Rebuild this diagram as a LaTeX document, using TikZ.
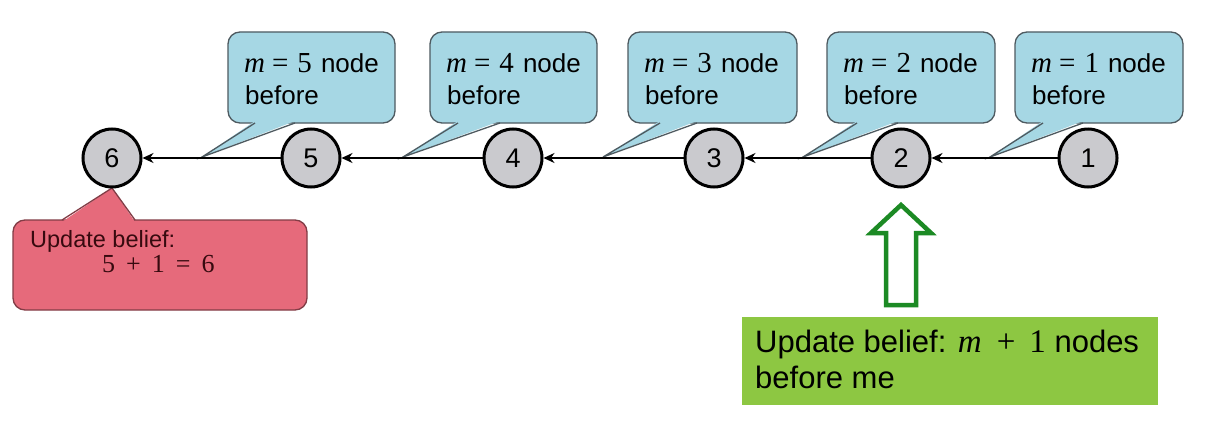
\documentclass[tikz,border=0pt]{standalone}
\usepackage[no-math]{fontspec}
\setmainfont{Liberation Sans}
\newfontfamily\mth{Liberation Serif}
\usetikzlibrary{arrows.meta}
\definecolor{callblue}{RGB}{166,215,228}
\definecolor{callblueline}{RGB}{78,90,96}
\definecolor{callred}{RGB}{230,106,123}
\definecolor{callredline}{RGB}{130,60,70}
\definecolor{redtext}{RGB}{55,10,15}
\definecolor{boxgreen}{RGB}{141,199,66}
\definecolor{arrowgreen}{RGB}{28,138,36}
\definecolor{circfill}{RGB}{202,202,206}
\tikzset{
  chain/.style={circle, draw=black, line width=3pt, fill=circfill, minimum size=58pt, inner sep=0pt, font=\fontsize{27}{27}\selectfont},
  conn/.style={line width=2.2pt, -{Stealth[length=11pt,width=10pt]}},
  bluebox/.style={fill=callblue, draw=callblueline, line width=1.3pt, rounded corners=12pt},
  bluetail/.style={fill=callblue},
  bluetailline/.style={draw=callblueline, line width=1.3pt},
  redbox/.style={fill=callred, draw=callredline, line width=1.3pt, rounded corners=12pt},
  calltext/.style={anchor=base west, inner sep=0pt, font=\fontsize{26}{30}\selectfont},
  redtxt/.style={anchor=base west, inner sep=0pt, text=redtext, font=\fontsize{23.5}{28}\selectfont},
  greentxt/.style={anchor=base west, inner sep=0pt, font=\fontsize{31}{36}\selectfont},
  hollowarrow/.style={draw=arrowgreen, line width=4.5pt, fill=white, line join=miter}
}
\begin{document}
\begin{tikzpicture}[x=1pt,y=-1pt]
\useasboundingbox[fill=white] (0,0) rectangle (1206,420);
% blue callouts
\foreach \i/\L/\R/\ba/\bb/\tx in {5/228/395/255/295/202, 4/430/597/458/500/403, 3/628/797/660/697/603, 2/827/995/857/898/803, 1/1015/1183/1043/1083/990}{
  \filldraw[bluebox] (\L,32) rectangle (\R,123);
  \coordinate (tip\i) at (\tx,157);
  \fill[bluetail] (\ba,121) -- (tip\i) -- (\bb,121) -- cycle;
  \draw[bluetailline, line join=miter] (\ba,123) -- (tip\i) -- (\bb,123);
  \node[calltext] (ta\i) at (\L+16,72) {{\fontsize{29}{30}\mth\itshape m\upshape\hspace{7pt}=\hspace{9pt}\i}\hspace{9pt}node};
  \node[calltext] (tb\i) at (\L+17,104) {before};
}
% red callout
\coordinate (redtip) at (112,188);
\filldraw[redbox] (13,220) rectangle (307,310);
\fill[callred] (62,222) -- (redtip) -- (135,222) -- cycle;
\draw[draw=callredline, line width=1.3pt] (62,220) -- (redtip) -- (135,220);
\node[redtxt] (ra) at (30,247) {Update belief:};
\node[redtxt, font=\fontsize{26}{28}\mth] (rb) at (102,272) {5\hspace{11pt}+\hspace{11pt}1\hspace{11pt}=\hspace{11pt}6};
% chain
\node[chain] (c6) at (112,158) {6};
\node[chain] (c5) at (311,158) {5};
\node[chain] (c4) at (513,158) {4};
\node[chain] (c3) at (714,158) {3};
\node[chain] (c2) at (901,158) {2};
\node[chain] (c1) at (1088,158) {1};
\draw[conn] (c1) -- (c2);
\draw[conn] (c2) -- (c3);
\draw[conn] (c3) -- (c4);
\draw[conn] (c4) -- (c5);
\draw[conn] (c5) -- (c6);
% green box
\fill[boxgreen] (742,317) rectangle (1158,405);
\node[greentxt] (ga) at (755,352) {Update belief: {\fontsize{33}{36}\mth\itshape m\upshape\hspace{15pt}+\hspace{14pt}1} nodes};
\node[greentxt] (gb) at (755,388) {before me};
% hollow arrow
\coordinate (atip) at (901,205);
\filldraw[hollowarrow] (atip) -- (931,233) -- (916,233) -- (916,305) -- (886,305) -- (886,233) -- (871,233) -- cycle;
\end{tikzpicture}
\end{document}
